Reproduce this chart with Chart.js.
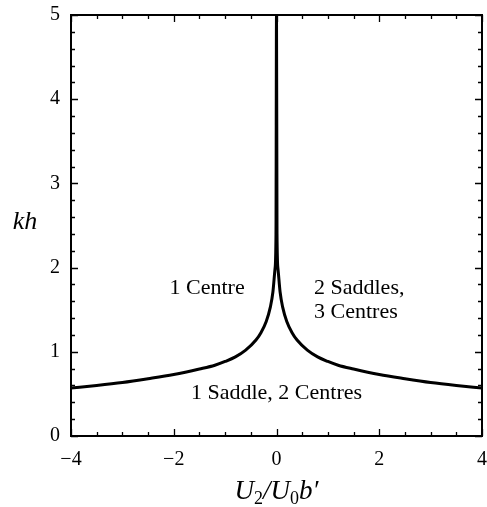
<!DOCTYPE html>
<html>
<head>
<meta charset="utf-8">
<style>
  html, body { margin: 0; padding: 0; background: #fff; }
  #wrap { width: 487px; height: 507px; }
</style>
<script src="https://cdn.jsdelivr.net/npm/chart.js@4.4.0/dist/chart.umd.min.js"></script>
</head>
<body>
<div id="wrap"><canvas id="c" width="487" height="507"></canvas></div>
<script>
// Boundary curve kh(U2/U0b'), symmetric about zero
const uValues = [-4, -3.5, -3, -2.5, -2, -1.5, -1.2, -1, -0.8, -0.6, -0.4, -0.3, -0.2, -0.12, -0.07, -0.03, -0.01, 0,
                 0.01, 0.03, 0.07, 0.12, 0.2, 0.3, 0.4, 0.6, 0.8, 1, 1.2, 1.5, 2, 2.5, 3, 3.5, 4];
const khValues = [0.57, 0.60, 0.635, 0.68, 0.73, 0.795, 0.84, 0.885, 0.94, 1.02, 1.14, 1.23, 1.36, 1.53, 1.71, 1.98, 2.4, 5,
                  2.4, 1.98, 1.71, 1.53, 1.36, 1.23, 1.14, 1.02, 0.94, 0.885, 0.84, 0.795, 0.73, 0.68, 0.635, 0.60, 0.57];

const xTicks = [-4, -2, 0, 2, 4];
const yTicks = [0, 1, 2, 3, 4, 5];

// Region annotations placed in data coordinates
const regionLabels = [
  { lines: ['1 Centre'], x: -1.35, y: 1.76, align: 'center' },
  { lines: ['2 Saddles,', '3 Centres'], x: 0.73, y: 1.76, align: 'left' },
  { lines: ['1 Saddle, 2 Centres'], x: 0, y: 0.51, align: 'center' }
];

const SERIF = '"Liberation Serif", "DejaVu Serif", serif';

const points = uValues.map((u, i) => ({ x: u, y: khValues[i] }));

// Frame, inward ticks, region text and axis titles
const decorations = {
  id: 'decorations',
  afterDraw(chart) {
    const { ctx, chartArea: a, scales } = chart;
    const xs = scales.x, ys = scales.y;
    ctx.save();
    ctx.strokeStyle = '#000';
    ctx.lineWidth = 2;
    ctx.strokeRect(a.left, a.top, a.right - a.left, a.bottom - a.top);

    ctx.lineWidth = 1.3;
    ctx.beginPath();
    for (let v = -4; v <= 4.0001; v += 0.5) {
      const px = Math.round(xs.getPixelForValue(v)) + 0.5;
      const major = Math.abs(v % 2) < 1e-6;
      const len = major ? 7 : 4;
      ctx.moveTo(px, a.bottom); ctx.lineTo(px, a.bottom - len);
      ctx.moveTo(px, a.top); ctx.lineTo(px, a.top + len);
    }
    for (let k = 0; k <= 25; k++) {
      const v = k * 0.2;
      const py = Math.round(ys.getPixelForValue(v)) + 0.5;
      const len = (k % 5 === 0) ? 7 : 4;
      ctx.moveTo(a.left, py); ctx.lineTo(a.left + len, py);
      ctx.moveTo(a.right, py); ctx.lineTo(a.right - len, py);
    }
    ctx.stroke();

    ctx.fillStyle = '#000';
    ctx.font = '22px ' + SERIF;
    ctx.textBaseline = 'middle';
    regionLabels.forEach(lbl => {
      ctx.textAlign = lbl.align;
      const px = xs.getPixelForValue(lbl.x);
      const py = ys.getPixelForValue(lbl.y);
      lbl.lines.forEach((t, i) => ctx.fillText(t, px, py + i * 24));
    });

    // y-axis title
    ctx.font = 'italic 26px ' + SERIF;
    ctx.textAlign = 'center';
    ctx.fillText('kh', 25, (a.top + a.bottom) / 2 - 3);

    // x-axis title: U2/U0b'
    const parts = [
      { t: 'U', f: 'italic 27px ', dy: 0 },
      { t: '2', f: '18px ', dy: 5 },
      { t: '/', f: 'italic 27px ', dy: 0 },
      { t: 'U', f: 'italic 27px ', dy: 0 },
      { t: '0', f: '18px ', dy: 5 },
      { t: 'b\u2032', f: 'italic 27px ', dy: 0 }
    ];
    let total = 0;
    parts.forEach(p => { ctx.font = p.f + SERIF; p.w = ctx.measureText(p.t).width; total += p.w; });
    let cx = (a.left + a.right) / 2 - total / 2;
    const baseY = 499;
    ctx.textAlign = 'left';
    ctx.textBaseline = 'alphabetic';
    parts.forEach(p => { ctx.font = p.f + SERIF; ctx.fillText(p.t, cx, baseY + p.dy); cx += p.w; });
    ctx.restore();
  }
};

new Chart(document.getElementById('c'), {
  type: 'scatter',
  data: {
    datasets: [{
      data: points,
      showLine: true,
      borderColor: '#000',
      borderWidth: 3,
      pointRadius: 0,
      cubicInterpolationMode: 'monotone',
      fill: false
    }]
  },
  options: {
    responsive: false,
    animation: false,
    devicePixelRatio: 1,
    layout: { padding: { top: 15, right: 5, left: 0, bottom: 0 } },
    plugins: { legend: { display: false }, tooltip: { enabled: false } },
    scales: {
      x: {
        type: 'linear',
        min: -4, max: 4,
        grid: { display: false, drawTicks: false },
        border: { display: false },
        afterBuildTicks: s => { s.ticks = xTicks.map(v => ({ value: v })); },
        afterFit: s => { s.height = 71; s.paddingLeft = 0; s.paddingRight = 0; },
        ticks: {
          padding: 12,
          color: '#000',
          font: { family: SERIF, size: 20 },
          maxRotation: 0,
          callback: v => String(v).replace('-', '\u2212')
        }
      },
      y: {
        type: 'linear',
        min: 0, max: 5,
        grid: { display: false, drawTicks: false },
        border: { display: false },
        afterBuildTicks: s => { s.ticks = yTicks.map(v => ({ value: v })); },
        afterFit: s => { s.width = 71; s.paddingTop = 0; s.paddingBottom = 0; },
        ticks: {
          padding: 11,
          color: '#000',
          font: { family: SERIF, size: 20 },
          callback: v => String(v)
        }
      }
    }
  },
  plugins: [decorations]
});
</script>
</body>
</html>
